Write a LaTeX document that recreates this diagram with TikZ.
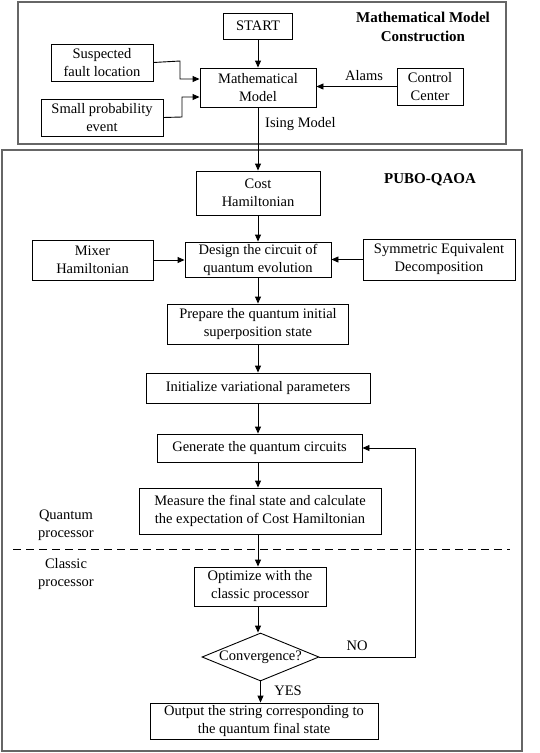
\documentclass[tikz,border=0pt]{standalone}
\usepackage{fontspec}
\setmainfont{Liberation Serif}
\usetikzlibrary{arrows.meta,shapes.geometric}
\begin{document}
\begin{tikzpicture}[x=1pt,y=-1pt,
  every node/.style={font=\fontsize{14.5}{18}\selectfont},
  box/.style={draw=black,line width=0.9pt,align=center,inner sep=0pt},
  frame/.style={draw=black!60,line width=1.4pt},
  arr/.style={line width=0.9pt,-{Triangle[length=7pt,width=6pt]}},
  lbl/.style={align=center,inner sep=0pt},
  ttl/.style={align=center,inner sep=0pt,font=\fontsize{15}{19}\selectfont\bfseries}]
\useasboundingbox (0,0) rectangle (540,753);
\draw[frame] (18,2) rectangle (506,144);
\draw[frame] (2,150) rectangle (522,751);
% top part
\node[box,minimum width=69pt,minimum height=26pt] (start) at (258,26) {START};
\node[box,minimum width=102pt,minimum height=37pt] (susp) at (102,62.5) {Suspected\\fault location};
\node[box,minimum width=116pt,minimum height=39pt] (math) at (258,87.5) {Mathematical\\Model};
\node[box,minimum width=66pt,minimum height=37pt] (ctrl) at (430,86.5) {Control\\Center};
\node[box,minimum width=122pt,minimum height=37pt] (small) at (102,117.5) {Small probability\\event};
\node[ttl] (t1) at (423,27) {Mathematical Model\\Construction};
\node[lbl,anchor=west] (ising) at (265,124) {Ising Model};
\node[lbl] (alams) at (364,76) {Alams};
% second part
\node[ttl] (t2) at (430,180) {PUBO-QAOA};
\node[box,minimum width=124pt,minimum height=44pt] (cost) at (258,193) {Cost\\Hamiltonian};
\node[box,minimum width=146pt,minimum height=35pt] (design) at (258,259.5) {Design the circuit of\\quantum evolution};
\node[box,minimum width=121pt,minimum height=40pt] (mixer) at (92.5,260) {Mixer\\Hamiltonian};
\node[box,minimum width=152pt,minimum height=41pt] (sym) at (439,259.5) {Symmetric Equivalent\\Decomposition};
\node[box,minimum width=181pt,minimum height=40pt] (prep) at (258,324) {Prepare the quantum initial\\superposition state};
\node[box,minimum width=224pt,minimum height=30pt] (init) at (258,388) {Initialize variational parameters};
\node[box,minimum width=205pt,minimum height=28pt] (gen) at (259.5,448) {Generate the quantum circuits};
\node[box,minimum width=242pt,minimum height=46pt] (meas) at (260,511) {Measure the final state and calculate\\the expectation of Cost Hamiltonian};
\node[box,minimum width=132pt,minimum height=39pt] (opt) at (260,586.5) {Optimize with the\\classic processor};
\node[draw=black,line width=0.9pt,diamond,aspect=2.45,minimum width=117pt,minimum height=48pt,inner sep=0pt] (conv) at (260.5,657) {Convergence?};
\node[box,minimum width=228pt,minimum height=36pt] (out) at (264,721) {Output the string corresponding to\\the quantum final state};
\node[lbl] (qp) at (66,525) {Quantum\\processor};
\node[lbl] (cp) at (66,574) {Classic\\processor};
\node[lbl] (no) at (357,646) {NO};
\node[lbl] (yes) at (288,691) {YES};
\coordinate (d1) at (13,549);
\coordinate (d2) at (510,549);
\draw[line width=0.9pt,dash pattern=on 8pt off 5pt] (d1) -- (d2);
% connectors
\draw[arr] (start) -- (math);
\draw[arr] (susp.east) -- (180,61) -- (180,79) -- (math.west |- 0,79);
\draw[arr] (small.east) -- (182,117) -- (182,97) -- (math.west |- 0,97);
\draw[arr] (ctrl.west) -- (math.east |- ctrl.west);
\draw[arr] (math) -- (cost);
\draw[arr] (cost) -- (design);
\draw[arr] (mixer.east) -- (design.west |- mixer.east);
\draw[arr] (sym.west) -- (design.east |- sym.west);
\draw[arr] (design) -- (prep);
\draw[arr] (prep) -- (init);
\draw[arr] (init.south) -- (init.south |- gen.north);
\draw[arr] (gen.south -| init.south) -- (init.south |- meas.north);
\draw[arr] (meas.south -| init.south) -- (init.south |- opt.north);
\draw[arr] (opt.south -| init.south) -- (init.south |- conv.north);
\draw[arr] (conv.south) -- (conv.south |- out.north);
\draw[arr] (conv.east) -- (415,657) -- (415,448) -- (gen.east);
\end{tikzpicture}
\end{document}
